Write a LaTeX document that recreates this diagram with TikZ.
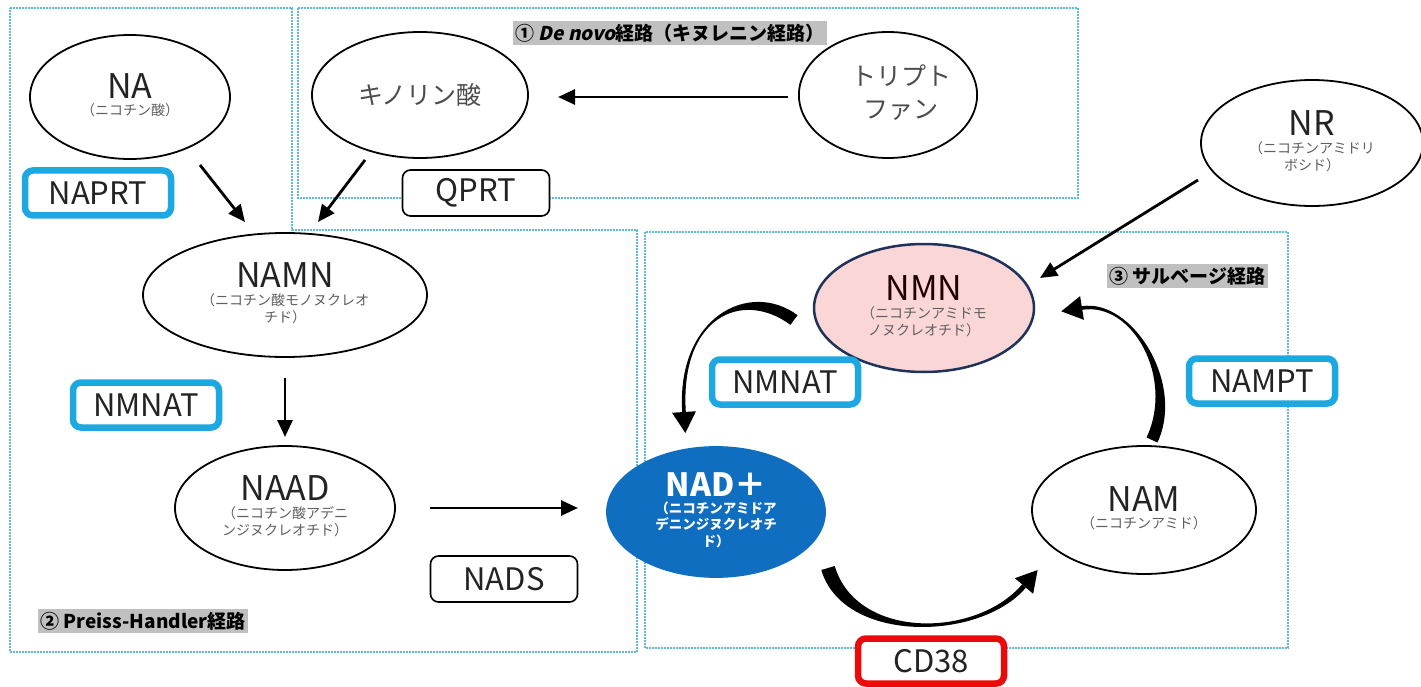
\documentclass[tikz,border=0pt]{standalone}
\usepackage{fontspec}
\setmainfont{Noto Sans CJK JP}
\newfontfamily\deslant{Noto Sans CJK JP}[FakeSlant=0.22, BoldFeatures={FakeSlant=0.22}]
\usetikzlibrary{shapes.geometric,arrows.meta,calc}
\definecolor{dotblue}{RGB}{95,185,215}
\definecolor{enzblue}{RGB}{30,168,226}
\definecolor{enzred}{RGB}{235,10,10}
\definecolor{nadblue}{RGB}{16,110,192}
\definecolor{nmnpink}{RGB}{250,214,214}
\definecolor{nmnedge}{RGB}{30,50,90}
\definecolor{subgray}{RGB}{95,95,95}
\definecolor{titlegray}{RGB}{35,35,35}
\definecolor{lblgray}{RGB}{192,192,192}
\newcommand\chemlbl[3][34]{\begin{tabular}{@{}c@{}}\fontsize{#1}{#1}\selectfont #2\\[2pt]\fontsize{14}{16.5}\selectfont\color{subgray}\begin{tabular}{@{}c@{}}#3\end{tabular}\end{tabular}}
% tapered curved arrow: #1 start, #2 ctrl1, #3 ctrl2, #4 end of body, #5 half width at start, #6 half width at end
\newcommand\taperarrow[6]{%
  \fill ($(#1)!#5!90:(#2)$) .. controls ($(#2)!#5!-90:(#1)$) and ($(#3)!#6!90:(#4)$) .. ($(#4)!#6!-90:(#3)$)
     -- ($(#4)!#6!90:(#3)$) .. controls ($(#3)!#6!-90:(#4)$) and ($(#2)!#5!90:(#1)$) .. ($(#1)!#5!-90:(#2)$) -- cycle;
  \fill ($(#4)!12pt!90:(#3)$) -- ($(#4)!-21pt!(#3)$) -- ($(#4)!12pt!-90:(#3)$) -- cycle;}
\begin{document}
\begin{tikzpicture}[x=1pt,y=-1pt,
  chem/.style={ellipse, draw=black, line width=1.8pt, inner sep=0pt, text=titlegray},
  enz/.style={draw=enzblue, line width=6.5pt, rounded corners=8pt, fill=white, inner sep=0pt,
    minimum width=146pt, minimum height=45pt, font=\fontsize{31}{33}\selectfont, text=titlegray},
  enzr/.style={enz, draw=enzred},
  enzk/.style={enz, draw=black, line width=1.6pt, minimum width=147pt, minimum height=46pt},
  zone/.style={draw=dotblue, line width=2.2pt, dash pattern=on 1.6pt off 1.4pt},
  tag/.style={fill=lblgray, inner sep=2.5pt, font=\fontsize{19}{21}\selectfont\bfseries},
  arr/.style={line width=2.8pt, -{Triangle[length=17pt,width=15pt]}}]
\useasboundingbox (0,0) rectangle (1421,687);
\fill[white] (0,0) rectangle (1421,687);
% zones
\draw[zone] (10,8) -- (292,8) -- (292,230) -- (637,230) -- (637,652) -- (10,652) -- cycle;
\draw[zone] (298,8) rectangle (1078,198);
\draw[zone] (645,232) rectangle (1288,648);
% tags
\node[tag] (tag1) at (670,33) {① {\deslant\bfseries De novo}経路（キヌレニン経路）};
\node[tag] (tag2) at (143,621) {② Preiss-Handler経路};
\node[tag] (tag3) at (1187,276) {③ サルベージ経路};
% molecules
\node[chem, minimum width=200pt, minimum height=124pt] (na) at (130,97) {\chemlbl{NA}{（ニコチン酸）}};
\node[chem, minimum width=216pt, minimum height=126pt, font=\fontsize{25}{30}\selectfont, text=subgray!80!black] (qa) at (420,95) {キノリン酸};
\node[chem, minimum width=164pt, minimum height=126pt, font=\fontsize{25}{33}\selectfont, text=subgray!80!black] (trp) at (888,95) {\hspace*{26pt}\begin{tabular}{@{}c@{}}トリプト\\ファン\end{tabular}};
\node[chem, minimum width=222pt, minimum height=126pt] (nr) at (1312,143) {\chemlbl{NR}{（ニコチンアミドリ\\ボシド）}};
\node[chem, minimum width=284pt, minimum height=124pt] (namn) at (285,295) {\chemlbl{NAMN}{（ニコチン酸モノヌクレオ\\チド）}};
\node[chem, minimum width=220pt, minimum height=124pt] (naad) at (285,508) {\chemlbl{NAAD}{（ニコチン酸アデニ\\ンジヌクレオチド）}};
\node[chem, draw=nmnedge, fill=nmnpink, line width=2.5pt, minimum width=220pt, minimum height=128pt, text=black!70!red!40!black] (nmn) at (924,308) {\chemlbl{NMN}{（ニコチンアミドモ\\ノヌクレオチド）}};
\node[chem, minimum width=224pt, minimum height=128pt] (nam) at (1144,510) {\chemlbl{NAM}{（ニコチンアミド）}};
\node[chem, draw=nadblue, fill=nadblue, minimum width=218pt, minimum height=130pt, text=white] (nadp) at (716,512)
  {\begin{tabular}{@{}c@{}}\fontsize{32}{32}\selectfont\bfseries NAD＋\\[1pt]\fontsize{13.5}{16}\selectfont\bfseries\begin{tabular}{@{}c@{}}（ニコチンアミドア\\デニンジヌクレオチ\\ド）\end{tabular}\end{tabular}};
% straight arrows
\draw[arr] ([shift={(70,68)}]na.center) -- ([shift={(-40,-73)}]namn.center);
\draw[arr] ([shift={(-55,65)}]qa.center) -- ([shift={(33,-73)}]namn.center);
\draw[arr] ([shift={(-100,2)}]trp.center) -- ([shift={(138,2)}]qa.center);
\draw[arr] ([shift={(0,83)}]namn.center) -- ([shift={(0,-71)}]naad.center);
\draw[arr] ([shift={(145,0)}]naad.center) -- ([shift={(-138,-4)}]nadp.center);
\draw[arr] ([shift={(-114,37)}]nr.center) -- ([shift={(116,-30)}]nmn.center);
% curved tapered arrows
\coordinate (a0) at ([shift={(-130,12)}]nmn.center);
\coordinate (a1) at (745,284);
\coordinate (a2) at (678,318);
\coordinate (a3) at ([shift={(-32,-100)}]nadp.center);
\taperarrow{a0}{a1}{a2}{a3}{6pt}{1.8pt}
\coordinate (b0) at ([shift={(112,56)}]nadp.center);
\coordinate (b1) at (850,642);
\coordinate (b2) at (978,640);
\coordinate (b3) at ([shift={(-120,76)}]nam.center);
\taperarrow{b0}{b1}{b2}{b3}{7pt}{2.5pt}
\coordinate (c0) at ([shift={(8,-70)}]nam.center);
\coordinate (c1) at (1180,380);
\coordinate (c2) at (1132,300);
\coordinate (c3) at ([shift={(158,0)}]nmn.center);
\taperarrow{c0}{c1}{c2}{c3}{6pt}{1.8pt}
% enzymes
\node[enz] (naprt) at (98,193) {NAPRT};
\node[enzk] (qprt) at (476,193) {QPRT};
\node[enz] (nmnat1) at (146,405) {NMNAT};
\node[enz] (nmnat2) at (785,382) {NMNAT};
\node[enz] (nampt) at (1262,381) {NAMPT};
\node[enzk] (nads) at (504,579) {NADS};
\node[enzr] (cd38) at (931,661) {CD38};
\end{tikzpicture}
\end{document}
